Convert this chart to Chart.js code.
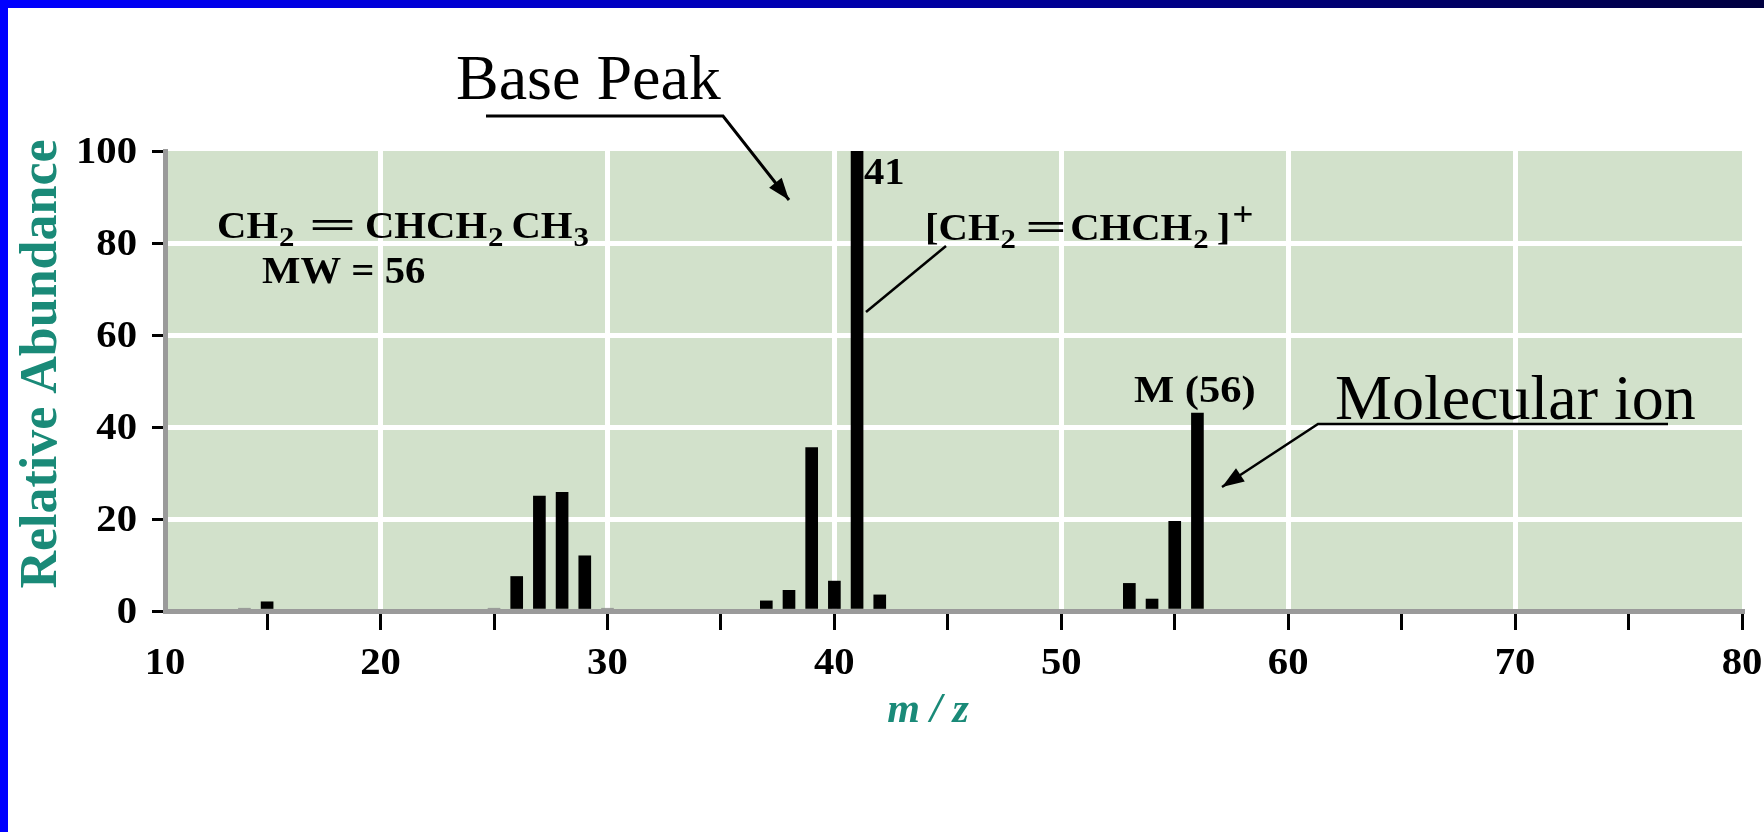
<!DOCTYPE html>
<html>
<head>
<meta charset="utf-8">
<title>Mass spectrum of 1-butene</title>
<script src="https://cdn.jsdelivr.net/npm/chart.js@4"></script>
<style>
  html, body { margin: 0; padding: 0; background: #fff; }
  #wrap { position: relative; width: 1764px; height: 832px; overflow: hidden; }
  #topbar { position: absolute; left: 0; top: 0; width: 1764px; height: 8px; z-index: 2;
            background: linear-gradient(to right, #0000ff, #0000a8 50%, #000040); }
  #leftbar { position: absolute; left: 0; top: 0; width: 8px; height: 832px; z-index: 2; background: #0000ff; }
  canvas { position: absolute; left: 0; top: 0; }
</style>
</head>
<body>
<div id="wrap">
  <div id="topbar"></div>
  <div id="leftbar"></div>
  <canvas id="ms" width="1764" height="832"></canvas>
</div>
<script>
// m/z peaks and their relative abundance (%)
const mzValues  = [14, 15, 25, 26, 27, 28, 29, 30, 37, 38, 39, 40, 41, 42, 53, 54, 55, 56];
const abundance = [0.6, 2, 0.6, 7.5, 25, 25.8, 12, 0.6, 2.2, 4.5, 35.5, 6.5, 100, 3.5, 6, 2.6, 19.5, 43];

// axis ticks
const xTickValues = [15, 20, 25, 30, 35, 40, 45, 50, 55, 60, 65, 70, 75, 80];
const xLabelValues = [10, 20, 30, 40, 50, 60, 70, 80];
const yTickValues = [0, 20, 40, 60, 80, 100];

const TEAL = '#1a8a78';
const GREEN = '#d2e1cb';
const BOLD = 'bold 37px "Liberation Serif"';
const SUB = 'bold 28px "Liberation Serif"';
const SUP = 'bold 34px "Liberation Serif"';
const SX = 1.1; // the figure's lettering is a little wide

function stretchText(ctx, s, x, y, font, sx, align, color) {
  ctx.save();
  ctx.font = font;
  ctx.fillStyle = color || '#000';
  ctx.textAlign = 'left';
  ctx.textBaseline = 'alphabetic';
  const w = ctx.measureText(s).width * sx;
  let x0 = x;
  if (align === 'right') x0 = x - w;
  else if (align === 'center') x0 = x - w / 2;
  ctx.translate(x0, y);
  ctx.scale(sx, 1);
  ctx.fillText(s, 0, 0);
  ctx.restore();
  return w;
}

function richText(ctx, parts, x, y) {
  let cx = x;
  parts.forEach(([s, kind]) => {
    let font = BOLD, sx = SX, dy = 0, pre = 0, post = 0;
    if (kind === 'sub') { font = SUB; dy = 8; pre = 1; post = 8; }
    if (kind === 'sup') { font = SUP; dy = -15; pre = 2; }
    if (kind === 'bond') { sx = 2.3; pre = 6; post = 8; }
    if (kind === 'bond2') { sx = 2.0; pre = 1; post = 3; }
    cx += pre;
    cx += stretchText(ctx, s, cx, y + dy, font, sx, 'left');
    cx += post;
  });
}

function pointer(ctx, pts, head, width) {
  ctx.save();
  ctx.strokeStyle = '#000';
  ctx.fillStyle = '#000';
  ctx.lineWidth = width;
  ctx.beginPath();
  ctx.moveTo(pts[0][0], pts[0][1]);
  pts.slice(1).forEach(p => ctx.lineTo(p[0], p[1]));
  ctx.stroke();
  if (head) {
    const [x1, y1] = pts[pts.length - 2];
    const [x2, y2] = pts[pts.length - 1];
    const a = Math.atan2(y2 - y1, x2 - x1);
    const L = 22, W = 8;
    ctx.beginPath();
    ctx.moveTo(x2, y2);
    ctx.lineTo(x2 - L * Math.cos(a) + W * Math.sin(a), y2 - L * Math.sin(a) - W * Math.cos(a));
    ctx.lineTo(x2 - L * Math.cos(a) - W * Math.sin(a), y2 - L * Math.sin(a) + W * Math.cos(a));
    ctx.closePath();
    ctx.fill();
  }
  ctx.restore();
}

const plotBackground = {
  id: 'plotBackground',
  beforeDraw(chart) {
    const { ctx, chartArea: a } = chart;
    ctx.save();
    ctx.fillStyle = GREEN;
    ctx.fillRect(a.left, a.top, a.right - a.left, a.bottom - a.top);
    ctx.restore();
  }
};

const labels = {
  id: 'labels',
  afterDraw(chart) {
    const { ctx, scales: { x, y } } = chart;

    // tick labels
    yTickValues.forEach(v => stretchText(ctx, String(v), 137, y.getPixelForValue(v) + 12, BOLD, SX, 'right'));
    xLabelValues.forEach(v => {
      const px = Math.max(x.left, x.getPixelForValue(v));
      stretchText(ctx, String(v), px, 674, BOLD, SX, 'center');
    });

    // axis titles
    ctx.save();
    ctx.translate(56, 364);
    ctx.rotate(-Math.PI / 2);
    ctx.font = 'bold 52px "Liberation Serif"';
    ctx.fillStyle = TEAL;
    ctx.textAlign = 'center';
    ctx.fillText('Relative Abundance', 0, 0);
    ctx.restore();

    ctx.save();
    ctx.font = 'italic bold 42px "Liberation Serif"';
    ctx.fillStyle = TEAL;
    ctx.textAlign = 'center';
    ctx.fillText('m / z', 928, 722);
    ctx.restore();

    // annotations inside the plot
    richText(ctx, [['CH'], ['2', 'sub'], ['=', 'bond'], ['CHCH'], ['2', 'sub'], ['CH'], ['3', 'sub']], 217, 238);
    stretchText(ctx, 'MW = 56', 262, 283, BOLD, SX, 'left');
    stretchText(ctx, '41', 864, 184, BOLD, SX, 'left');
    richText(ctx, [['['], ['CH'], ['2', 'sub'], ['=', 'bond2'], ['CHCH'], ['2', 'sub'], [']'], ['+', 'sup']], 925, 240);
    stretchText(ctx, 'M (56)', 1134, 402, BOLD, 1.15, 'left');
    pointer(ctx, [[866, 312], [946, 246]], false, 2.5);

    // slide callouts
    ctx.save();
    ctx.font = '64px "Liberation Serif"';
    ctx.fillStyle = '#000';
    ctx.fillText('Base Peak', 456, 99);
    ctx.fillText('Molecular ion', 1335, 419);
    ctx.restore();
    pointer(ctx, [[486, 116], [723, 116], [789, 200]], true, 3);
    pointer(ctx, [[1668, 424], [1318, 424], [1222, 487]], true, 2.5);
  }
};

new Chart(document.getElementById('ms'), {
  type: 'bar',
  data: {
    datasets: [{
      data: mzValues.map((m, i) => ({ x: m, y: abundance[i] })),
      backgroundColor: c => (c.raw && c.raw.y < 1 ? '#8f8f8f' : '#000'),
      borderWidth: 0,
      barThickness: 12
    }]
  },
  options: {
    responsive: false,
    animation: false,
    devicePixelRatio: 1,
    layout: { padding: { top: 151, right: 22, left: 0, bottom: 0 } },
    plugins: { legend: { display: false }, tooltip: { enabled: false } },
    scales: {
      x: {
        type: 'linear',
        min: 10.5,
        max: 80,
        offset: false,
        afterBuildTicks: s => { s.ticks = xTickValues.map(v => ({ value: v })); },
        afterFit: s => { s.height = 221; },
        ticks: { display: false },
        grid: {
          offset: false,
          color: c => (c.tick && c.tick.value % 10 === 0 && c.tick.value < 80 ? '#ffffff' : 'rgba(0,0,0,0)'),
          lineWidth: 5,
          drawTicks: true,
          tickLength: 19,
          tickWidth: 3,
          tickColor: '#000'
        },
        border: { color: '#9a9a9a', width: 5 }
      },
      y: {
        min: 0,
        max: 100,
        afterBuildTicks: s => { s.ticks = yTickValues.map(v => ({ value: v })); },
        afterFit: s => { s.width = 165; },
        ticks: { display: false },
        grid: {
          color: c => (c.tick && c.tick.value > 0 && c.tick.value < 100 ? '#ffffff' : 'rgba(0,0,0,0)'),
          lineWidth: 5,
          drawTicks: true,
          tickLength: 13,
          tickWidth: 3,
          tickColor: '#000'
        },
        border: { color: '#9a9a9a', width: 5 }
      }
    }
  },
  plugins: [plotBackground, labels]
});
</script>
</body>
</html>
